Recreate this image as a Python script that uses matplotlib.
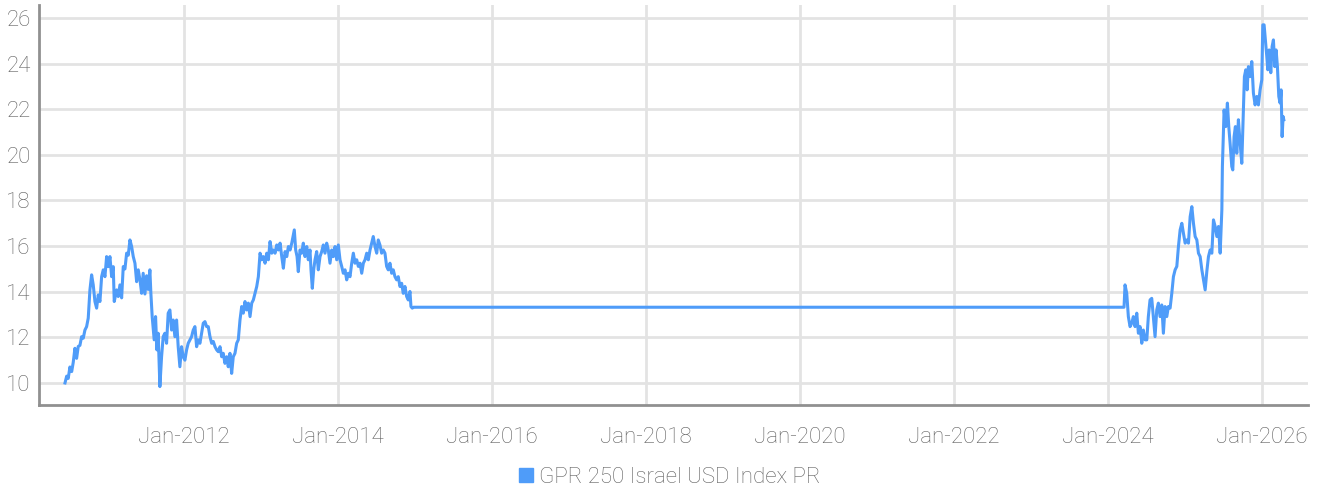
import matplotlib
matplotlib.use("Agg")
import matplotlib.pyplot as plt
import numpy as np
import pandas as pd

# decimal years and index levels
seg1_years = [
    2010.455, 2010.477, 2010.497, 2010.519, 2010.542, 2010.562, 2010.584, 2010.606, 2010.627, 2010.649,
    2010.671, 2010.692, 2010.714, 2010.736, 2010.757, 2010.779, 2010.801, 2010.822, 2010.844, 2010.866,
    2010.887, 2010.909, 2010.931, 2010.952, 2010.974, 2010.996, 2011.017, 2011.039, 2011.061, 2011.082,
    2011.095, 2011.126, 2011.147, 2011.169, 2011.191, 2011.212, 2011.234, 2011.256, 2011.277, 2011.299,
    2011.321, 2011.342, 2011.364, 2011.386, 2011.407, 2011.429, 2011.451, 2011.471, 2011.494, 2011.516,
    2011.536, 2011.558, 2011.571, 2011.588, 2011.614, 2011.632, 2011.649, 2011.666, 2011.688, 2011.710,
    2011.731, 2011.753, 2011.775, 2011.796, 2011.818, 2011.840, 2011.861, 2011.883, 2011.905, 2011.926,
    2011.948, 2011.970, 2011.991, 2012.013, 2012.035, 2012.056, 2012.078, 2012.100, 2012.121, 2012.143,
    2012.165, 2012.186, 2012.208, 2012.230, 2012.251, 2012.273, 2012.295, 2012.316, 2012.338, 2012.360,
    2012.381, 2012.403, 2012.425, 2012.446, 2012.468, 2012.490, 2012.510, 2012.532, 2012.555, 2012.575,
    2012.597, 2012.619, 2012.640, 2012.662, 2012.684, 2012.705, 2012.727, 2012.749, 2012.770, 2012.792,
    2012.814, 2012.835, 2012.857, 2012.879, 2012.900, 2012.922, 2012.944, 2012.965, 2012.987, 2013.009,
    2013.030, 2013.052, 2013.074, 2013.095, 2013.117, 2013.139, 2013.160, 2013.182, 2013.204, 2013.225,
    2013.247, 2013.269, 2013.290, 2013.312, 2013.334, 2013.355, 2013.377, 2013.399, 2013.419, 2013.432,
    2013.450, 2013.468, 2013.484, 2013.506, 2013.528, 2013.549, 2013.571, 2013.594, 2013.614, 2013.636,
    2013.649, 2013.666, 2013.684, 2013.701, 2013.723, 2013.744, 2013.766, 2013.788, 2013.809, 2013.831,
    2013.853, 2013.874, 2013.896, 2013.918, 2013.939, 2013.961, 2013.983, 2014.004, 2014.026, 2014.048,
    2014.069, 2014.091, 2014.113, 2014.134, 2014.156, 2014.178, 2014.199, 2014.221, 2014.243, 2014.264,
    2014.286, 2014.308, 2014.329, 2014.351, 2014.373, 2014.394, 2014.416, 2014.438, 2014.458, 2014.481,
    2014.503, 2014.523, 2014.545, 2014.567, 2014.588, 2014.610, 2014.632, 2014.653, 2014.675, 2014.697,
    2014.718, 2014.740, 2014.762, 2014.783, 2014.805, 2014.827, 2014.848, 2014.870, 2014.892, 2014.913,
    2014.935, 2014.948, 2014.965,
]
seg1_values = [
    10.00, 10.30, 10.20, 10.70, 10.50, 10.90, 11.52, 11.08, 11.60, 11.65,
    12.03, 11.96, 12.32, 12.47, 12.84, 14.08, 14.74, 14.30, 13.57, 13.28,
    13.86, 13.57, 14.66, 14.96, 14.66, 15.54, 15.10, 15.54, 14.66, 15.10,
    13.57, 14.08, 13.79, 14.30, 13.73, 15.10, 15.00, 15.69, 15.60, 16.27,
    15.98, 15.54, 15.25, 14.44, 14.96, 14.52, 13.93, 14.81, 13.90, 14.70,
    14.10, 14.96, 13.93, 12.91, 11.89, 12.91, 11.45, 12.18, 9.84, 11.15,
    12.03, 12.18, 11.74, 13.06, 13.20, 12.32, 12.76, 12.03, 12.76, 11.59,
    10.71, 11.59, 11.15, 11.00, 11.45, 11.74, 11.89, 12.03, 12.32, 12.47,
    11.59, 11.89, 11.74, 12.18, 12.62, 12.69, 12.47, 12.47, 12.03, 11.74,
    11.82, 11.59, 11.45, 11.37, 11.59, 11.15, 11.30, 10.86, 11.15, 10.71,
    11.30, 10.42, 11.15, 11.30, 11.74, 11.89, 12.76, 13.35, 13.06, 13.57,
    13.20, 13.50, 12.91, 13.50, 13.64, 13.93, 14.23, 14.66, 15.69, 15.40,
    15.54, 15.25, 15.69, 15.40, 16.20, 15.69, 15.83, 15.69, 16.05, 15.83,
    16.13, 15.54, 15.03, 15.76, 15.54, 15.98, 15.83, 16.13, 16.49, 16.71,
    15.83, 15.54, 14.88, 15.83, 15.69, 16.13, 15.54, 15.98, 15.40, 15.83,
    14.96, 14.15, 14.96, 15.40, 15.76, 14.96, 15.54, 15.76, 16.05, 15.69,
    16.13, 15.83, 15.25, 15.83, 15.54, 15.98, 15.40, 16.05, 15.40, 15.11,
    14.81, 14.96, 14.52, 14.81, 14.66, 15.25, 15.69, 15.25, 15.40, 15.11,
    15.25, 14.81, 15.25, 15.40, 15.69, 15.40, 15.83, 16.13, 16.42, 15.98,
    15.69, 16.27, 16.05, 15.69, 15.83, 15.69, 15.11, 14.96, 15.25, 14.81,
    14.96, 14.66, 14.52, 14.66, 14.23, 14.37, 13.93, 14.23, 13.79, 13.64,
    14.01, 13.35, 13.28,
]

# flat stretch with no new prints
gap_years = [2014.980, 2024.208]
gap_values = [13.32, 13.32]

seg2_years = [
    2024.221, 2024.243, 2024.264, 2024.286, 2024.308, 2024.329, 2024.351, 2024.373, 2024.394, 2024.416,
    2024.438, 2024.458, 2024.481, 2024.503, 2024.523, 2024.545, 2024.567, 2024.588, 2024.610, 2024.632,
    2024.653, 2024.675, 2024.697, 2024.718, 2024.740, 2024.762, 2024.783, 2024.805, 2024.827, 2024.848,
    2024.870, 2024.892, 2024.913, 2024.935, 2024.957, 2024.978, 2025.000, 2025.022, 2025.043, 2025.065,
    2025.087, 2025.108, 2025.130, 2025.152, 2025.173, 2025.195, 2025.217, 2025.238, 2025.260, 2025.282,
    2025.303, 2025.325, 2025.347, 2025.368, 2025.390, 2025.412, 2025.433, 2025.455, 2025.477, 2025.484,
    2025.506, 2025.528, 2025.549, 2025.567, 2025.584, 2025.606, 2025.619, 2025.636, 2025.653, 2025.671,
    2025.692, 2025.714, 2025.736, 2025.757, 2025.770, 2025.788, 2025.805, 2025.822, 2025.844, 2025.866,
    2025.887, 2025.909, 2025.931, 2025.952, 2025.974, 2025.996, 2026.009, 2026.026, 2026.039, 2026.061,
    2026.074, 2026.091, 2026.113, 2026.130, 2026.147, 2026.165, 2026.182, 2026.199, 2026.217, 2026.234,
    2026.247, 2026.260, 2026.273, 2026.282,
]
seg2_values = [
    14.30, 13.93, 12.91, 12.47, 12.62, 12.91, 12.47, 13.06, 12.18, 12.47,
    11.74, 12.32, 11.89, 11.89, 12.91, 13.64, 13.71, 12.91, 12.03, 13.20,
    13.50, 12.91, 13.42, 12.18, 13.35, 12.91, 13.35, 13.28, 13.93, 14.66,
    14.96, 15.11, 15.98, 16.71, 17.00, 16.56, 16.13, 16.27, 16.13, 17.29,
    17.73, 17.00, 16.42, 16.27, 15.69, 15.54, 14.96, 14.52, 14.08, 14.90,
    15.54, 15.83, 15.69, 17.15, 16.86, 16.42, 16.86, 15.69, 17.59, 19.49,
    21.97, 21.24, 22.27, 21.24, 20.51, 19.49, 19.34, 20.80, 21.24, 20.07,
    21.54, 20.51, 19.63, 21.97, 23.43, 23.73, 22.85, 23.87, 23.43, 24.09,
    22.71, 22.19, 22.56, 22.19, 22.85, 23.29, 25.70, 25.70, 25.19, 24.31,
    23.73, 24.60, 23.60, 24.75, 25.04, 23.87, 24.60, 23.87, 22.56, 22.27,
    22.85, 20.80, 21.68, 21.54,
]

y_ticks = [10, 12, 14, 16, 18, 20, 22, 24, 26]
x_tick_years = [2012, 2014, 2016, 2018, 2020, 2022, 2024, 2026]
series_name = "GPR 250 Israel USD Index PR"


def to_dates(years):
    out = []
    for y in years:
        yr = int(np.floor(y))
        start = pd.Timestamp(year=yr, month=1, day=1)
        days = (pd.Timestamp(year=yr + 1, month=1, day=1) - start).days
        out.append(start + pd.Timedelta(days=(y - yr) * days))
    return out


years = seg1_years + gap_years + seg2_years
values = seg1_values + gap_values + seg2_values
dates = to_dates(years)

BLUE = "#4f9cf9"
GRID = "#e3e3e3"
TEXT = "#5f5f5f"
SPINE = "#909090"

plt.rcParams.update({
    "font.family": ["Roboto", "DejaVu Sans"],
    "font.weight": "light",
    "font.size": 16,
})

fig = plt.figure(figsize=(13.17, 4.91), dpi=100)
ax = fig.add_axes([0.0296, 0.1752, 0.9636, 0.8146])

ax.plot(dates, values, color=BLUE, linewidth=2.2, solid_joinstyle="round", zorder=3)

ax.set_ylim(9.035, 26.57)
x0, x1 = to_dates([2010.117, 2026.597])
ax.set_xlim(x0, x1)

ax.set_yticks(y_ticks)
ax.set_yticklabels([str(v) for v in y_ticks])
ax.set_xticks(to_dates(x_tick_years))
ax.set_xticklabels([f"Jan-{y}" for y in x_tick_years])

ax.grid(True, color=GRID, linewidth=2.0, zorder=0)
ax.set_axisbelow(True)
ax.tick_params(axis="both", length=0, colors=TEXT, labelsize=16)
ax.tick_params(axis="y", pad=6)
ax.tick_params(axis="x", pad=16)

for s in ("top", "right"):
    ax.spines[s].set_visible(False)
for s in ("left", "bottom"):
    ax.spines[s].set_color(SPINE)
    ax.spines[s].set_linewidth(2.0)

handle = plt.Line2D([], [], marker="s", linestyle="none", markersize=10,
                    markerfacecolor=BLUE, markeredgecolor=BLUE)
fig.legend([handle], [series_name], loc="center", bbox_to_anchor=(0.508, 0.028),
           frameon=False, fontsize=16, labelcolor=TEXT, handletextpad=0.2,
           handlelength=0.8)

fig.savefig("out.png", dpi=100)
